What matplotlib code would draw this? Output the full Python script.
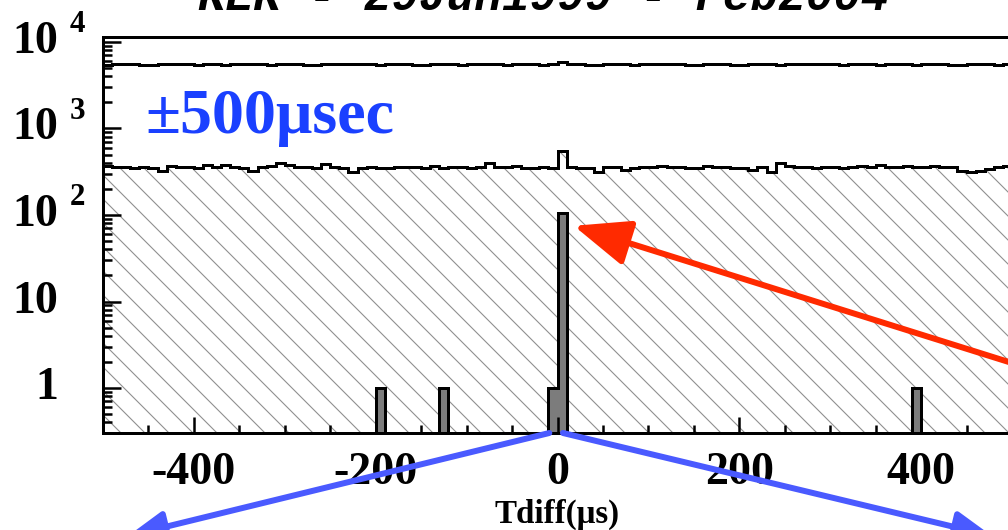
import numpy as np
import matplotlib
matplotlib.use('Agg')
import matplotlib.pyplot as plt
from matplotlib import transforms

# time difference histograms, 10 us bins over +-500 us
edges = np.arange(-500, 501, 10)

# all pairs (upper line)
all_counts = [5450, 5500, 5550, 5500, 5400, 5450, 5500, 5550, 5600, 5500,
              5450, 5500, 5550, 5450, 5500, 5600, 5550, 5500, 5450, 5500,
              5550, 5500, 5400, 5450, 5500, 5550, 5500, 5600, 5550, 5500,
              5450, 5500, 5550, 5500, 5450, 5400, 5500, 5550, 5500, 5450,
              5500, 5550, 5600, 5500, 5450, 5500, 5550, 5500, 5450, 5550,
              5850, 5550, 5500, 5450, 5450, 5500, 5550, 5500, 5450, 5500,
              5550, 5600, 5550, 5500, 5450, 5400, 5500, 5550, 5500, 5450,
              5400, 5600, 5550, 5500, 5450, 5500, 5550, 5500, 5600, 5550,
              5500, 5450, 5500, 5550, 5500, 5450, 5500, 5550, 5500, 5450,
              5500, 5550, 5500, 5450, 5400, 5500, 5550, 5500, 5450, 5500]

# after first cut (hatched)
cut_counts = [365, 360, 355, 352, 356, 350, 322, 370, 360, 355,
              352, 375, 360, 380, 355, 352, 325, 360, 365, 400,
              375, 360, 355, 352, 385, 360, 345, 315, 350, 355,
              352, 350, 355, 360, 356, 352, 365, 350, 360, 355,
              352, 360, 400, 360, 355, 365, 352, 345, 360, 350,
              555, 355, 350, 352, 315, 355, 360, 335, 352, 356,
              355, 372, 360, 355, 350, 352, 372, 360, 355, 345,
              352, 332, 360, 318, 400, 365, 355, 360, 346, 355,
              360, 352, 355, 365, 360, 375, 355, 360, 367, 360,
              355, 370, 356, 360, 322, 318, 320, 340, 355, 367]

# final selection
sel_t = [-200, -130, -10, 0, 390]
sel_n = [1, 1, 1, 105, 1]

xtick_vals = [-400, -200, 0, 200, 400]
ytick_vals = [1, 10, 100, 1000, 10000]

plt.rcParams['font.family'] = ['Liberation Serif', 'DejaVu Serif']
plt.rcParams['font.weight'] = 'bold'
plt.rcParams['hatch.linewidth'] = 1.1

W, H = 1008, 530
fig = plt.figure(figsize=(W/72, H/72), dpi=72)
ax = fig.add_axes([103/W, 1 - 433/H, (1012 - 103)/W, (433 - 36.7)/H])
ax.set_xlim(-500, 500)
ax.set_yscale('log')
ax.set_ylim(10**-0.52, 10**4.061)

# hatched area + outline
ax.stairs(cut_counts, edges, baseline=1e-3, fill=True, hatch='\\',
          facecolor='none', edgecolor='#8f8f8f', linewidth=0)
ax.stairs(cut_counts, edges, baseline=None, color='k', lw=3)
ax.stairs(all_counts, edges, baseline=None, color='k', lw=3)

# selected events, one patch per run of filled bins
sel = np.zeros(len(edges) - 1)
sel[(np.array(sel_t) + 500)//10] = sel_n
i = 0
while i < len(sel):
    if sel[i] > 0:
        j = i
        while j < len(sel) and sel[j] > 0:
            j += 1
        ax.stairs(sel[i:j], edges[i:j+1], baseline=1e-3, fill=True,
                  facecolor='#7c7c7c', edgecolor='none')
        ax.stairs(sel[i:j], edges[i:j+1], baseline=1e-3, color='k', lw=3)
        i = j
    else:
        i += 1

for s in ax.spines.values():
    s.set_linewidth(3)

ax.set_xticks(xtick_vals)
ax.set_xticklabels([str(v) for v in xtick_vals])
ax.set_xticks(np.arange(-450, 500, 50), minor=True)
ax.tick_params(axis='x', which='major', direction='in', length=16, width=2.5,
               labelsize=46, pad=19)
ax.tick_params(axis='x', which='minor', direction='in', length=8, width=2.5)
ax.tick_params(axis='y', which='major', direction='in', length=18, width=2.5,
               labelleft=False)
ax.tick_params(axis='y', which='minor', direction='in', length=9, width=2.5)
ax.yaxis.set_minor_locator(matplotlib.ticker.LogLocator(base=10, subs=np.arange(2, 10)))
ax.yaxis.set_minor_formatter(matplotlib.ticker.NullFormatter())

# y labels in ROOT style: 1, 10, 10^2 ...
ytr = transforms.blended_transform_factory(fig.transFigure, ax.transData)
for v in ytick_vals:
    e = int(round(np.log10(v)))
    if e < 2:
        ax.text(58/W, v, str(v), transform=ytr, ha='right', va='center',
                fontsize=46, clip_on=False)
    else:
        ax.text(58/W, v, '10', transform=ytr, ha='right', va='center',
                fontsize=46, clip_on=False)
        sup = transforms.offset_copy(ytr, fig=fig, y=17, units='dots')
        ax.text(70/W, v, str(e), transform=sup, ha='left', va='center',
                fontsize=31, clip_on=False)

xtr = transforms.blended_transform_factory(ax.transData, fig.transFigure)
ax.text(0, 1 - 514/H, 'Tdiff(\u03bcs)', transform=xtr, ha='center', va='center',
        fontsize=33, clip_on=False)

fig.text(543/W, 1 - 10/H, 'KEK - 29Jun1999 - Feb2004', ha='center', va='baseline',
         family='Liberation Mono', style='italic', fontsize=46)

fig.text(145/W, 1 - 133/H, '\u00b1500\u03bcsec', ha='left', va='baseline',
         fontsize=64, color='#1a40ff')

# arrows
ax.annotate('', xy=(18, 75), xycoords='data', xytext=(1012, H - 363),
            textcoords='figure pixels', annotation_clip=False,
            arrowprops=dict(arrowstyle='-|>,head_length=1.6,head_width=0.65',
                            mutation_scale=30, lw=6, color='#ff2a00',
                            shrinkA=0, shrinkB=0))
ax.annotate('', xy=(128, -6), xycoords='figure pixels', xytext=(-9, 10**-0.52),
            textcoords='data', annotation_clip=False,
            arrowprops=dict(arrowstyle='-|>,head_length=1.2,head_width=0.5',
                            mutation_scale=26, lw=6, color='#4a5aff',
                            shrinkA=0, shrinkB=0))
ax.annotate('', xy=(992, -6), xycoords='figure pixels', xytext=(6, 10**-0.52),
            textcoords='data', annotation_clip=False,
            arrowprops=dict(arrowstyle='-|>,head_length=1.2,head_width=0.5',
                            mutation_scale=26, lw=6, color='#4a5aff',
                            shrinkA=0, shrinkB=0))

fig.savefig('out.png', dpi=72)
